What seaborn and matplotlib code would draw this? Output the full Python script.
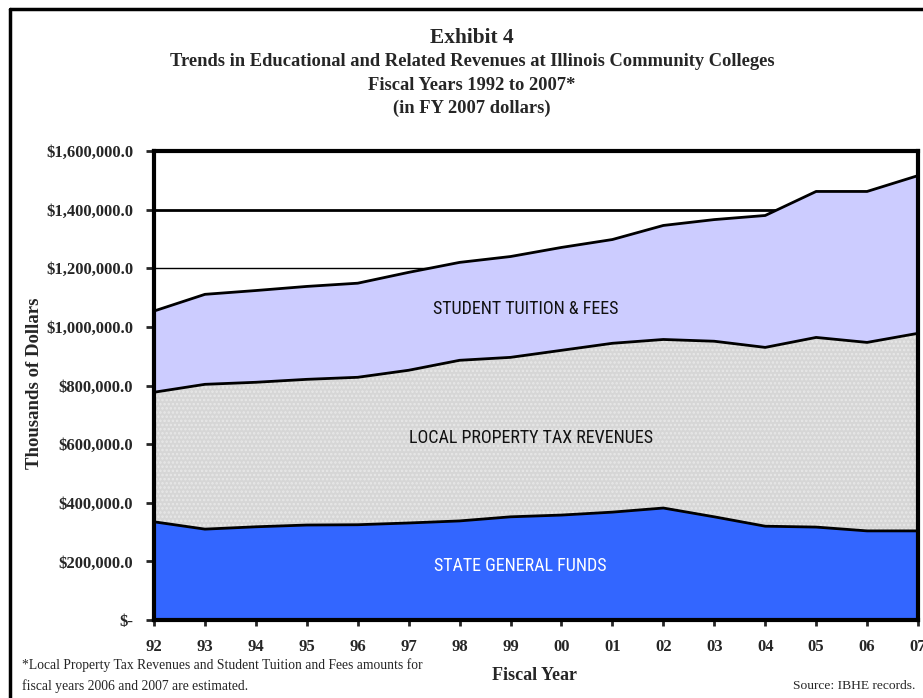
import matplotlib
matplotlib.use("Agg")
import matplotlib.pyplot as plt
from matplotlib.ticker import FixedLocator
import numpy as np
import pandas as pd
import seaborn as sns

# Fiscal years and revenue components (thousands of FY 2007 dollars)
years = ["92", "93", "94", "95", "96", "97", "98", "99", "00", "01", "02", "03", "04", "05", "06", "07"]
state_general_funds = [335, 310, 318, 324, 325, 331, 338, 352, 358, 368, 382, 352, 320, 317, 304, 304]
local_property_tax = [442, 494, 493, 497, 503, 521, 548, 544, 562, 576, 575, 599, 610, 647, 643, 674]
student_tuition_fees = [277, 307, 313, 317, 321, 334, 334, 344, 351, 354, 389, 415, 450, 498, 515, 538]
y_ticks = [0, 200000, 400000, 600000, 800000, 1000000, 1200000, 1400000, 1600000]
y_tick_labels = ["$-", "$200,000.0", "$400,000.0", "$600,000.0", "$800,000.0",
                 "$1,000,000.0", "$1,200,000.0", "$1,400,000.0", "$1,600,000.0"]

sns.set_theme(style="white")
plt.rcParams["font.family"] = ["Liberation Serif", "DejaVu Serif"]
plt.rcParams["hatch.linewidth"] = 1.2

x = np.arange(len(years))
state = np.array(state_general_funds) * 1000.0
local = np.array(local_property_tax) * 1000.0
tuition = np.array(student_tuition_fees) * 1000.0
lvl1 = state
lvl2 = state + local
lvl3 = state + local + tuition

df = pd.DataFrame({
    "idx": np.concatenate([x, x, x]),
    "value": np.concatenate([lvl1, lvl2, lvl3]),
    "layer": ["state"] * len(x) + ["local"] * len(x) + ["tuition"] * len(x),
})

fig = plt.figure(figsize=(9.23, 6.98), dpi=100)
ax = fig.add_axes([154 / 923, (698 - 620) / 698, (918 - 154) / 923, (620 - 151) / 698])

# Gridlines that show above the stacked areas
ax.axhline(1400000, color="black", lw=2.0, zorder=0.5)
ax.axhline(1200000, color="black", lw=1.0, zorder=0.5)

ax.fill_between(x, 0, lvl1, facecolor="#3366ff", edgecolor="none", zorder=1)
ax.fill_between(x, lvl1, lvl2, facecolor="#d6d6d6", edgecolor="#e8e8e8",
                hatch="....", linewidth=0, zorder=1)
ax.fill_between(x, lvl2, lvl3, facecolor="#ccccff", edgecolor="none", zorder=1)

sns.lineplot(data=df, x="idx", y="value", units="layer", estimator=None,
             color="black", lw=2.0, ax=ax, zorder=2, legend=False)

ax.set_xlim(0, len(x) - 1)
ax.set_ylim(0, 1600000)

ax.yaxis.set_major_locator(FixedLocator(y_ticks))
ax.set_yticklabels(y_tick_labels, fontsize=12, fontweight="bold")
ax.set_xticks(x)
ax.set_xticklabels(years, fontsize=12, fontweight="bold")
ax.tick_params(axis="y", direction="out", length=6, width=2, pad=9, left=True)
ax.tick_params(axis="x", direction="out", length=4, width=2, pad=10, bottom=True)

for side in ["left", "bottom", "top", "right"]:
    ax.spines[side].set_visible(True)
    ax.spines[side].set_color("black")
    ax.spines[side].set_linewidth(3)
    ax.spines[side].set_zorder(3)

ax.set_xlabel("")
ax.set_ylabel("")

# Area labels in a narrow sans face
cond = dict(family=["Roboto Condensed", "DejaVu Sans"], fontstretch="condensed",
            fontsize=13, zorder=4, ha="center", va="center")
ax.text(7.3, 1060000, "STUDENT TUITION & FEES", color="#111111", **cond)
ax.text(7.4, 620000, "LOCAL PROPERTY TAX REVENUES", color="#111111", **cond)
ax.text(7.2, 185000, "STATE GENERAL FUNDS", color="white", **cond)

# Titles
fig.text(472 / 923, 1 - 38 / 698, "Exhibit 4", ha="center", va="center",
         fontsize=15.4, fontweight="bold")
fig.text(472 / 923, 1 - 62 / 698,
         "Trends in Educational and Related Revenues at Illinois Community Colleges",
         ha="center", va="center", fontsize=13.3, fontweight="bold")
fig.text(472 / 923, 1 - 85 / 698, "Fiscal Years 1992 to 2007*", ha="center",
         va="center", fontsize=13.3, fontweight="bold")
fig.text(472 / 923, 1 - 108 / 698, "(in FY 2007 dollars)", ha="center",
         va="center", fontsize=13.3, fontweight="bold")

# Axis titles
fig.text(35 / 923, 1 - 383 / 698, "Thousands of Dollars", rotation=90,
         ha="center", va="center", fontsize=13.5, fontweight="bold")
fig.text(535 / 923, 1 - 675 / 698, "Fiscal Year", ha="center", va="center",
         fontsize=13, fontweight="bold")

# Footnotes
fig.text(22 / 923, 1 - 665 / 698,
         "*Local Property Tax Revenues and Student Tuition and Fees amounts for",
         ha="left", va="center", fontsize=9.8)
fig.text(22 / 923, 1 - 686 / 698, "fiscal years 2006 and 2007 are estimated.",
         ha="left", va="center", fontsize=9.8)
fig.text(915 / 923, 1 - 686 / 698, "Source: IBHE records.", ha="right",
         va="center", fontsize=9.7)

# Outer frame (left and top edges)
fig.add_artist(plt.Line2D([10 / 923, 10 / 923], [0, 1 - 9 / 698],
                          color="black", lw=2.5, transform=fig.transFigure))
fig.add_artist(plt.Line2D([10 / 923, 1], [1 - 9 / 698, 1 - 9 / 698],
                          color="black", lw=2.5, transform=fig.transFigure))

fig.savefig("out.png", dpi=100)
